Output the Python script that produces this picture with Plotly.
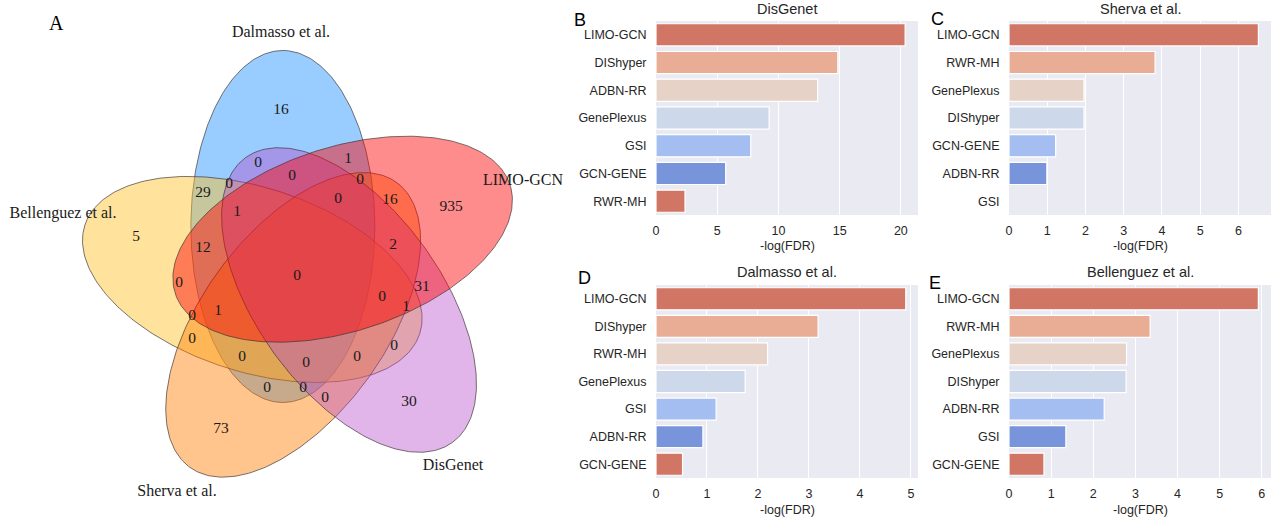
import numpy as np
import plotly.graph_objects as go

W, H = 1272, 517

# ---------------- Venn data (panel A) ----------------
venn_sets = ["Dalmasso et al.", "Bellenguez et al.", "Sherva et al.", "DisGenet", "LIMO-GCN"]
venn_counts = [16, 0, 0, 29, 1, 5, 12, 0, 1, 0, 0, 16, 935, 2,
               0, 0, 1, 0, 0, 0, 73, 0, 0, 31, 1, 0, 0, 0, 0, 0, 30]
venn_count_x = [281, 258, 229, 203, 237, 136, 203, 292, 348, 360, 338, 390, 451, 393,
                179, 192, 218, 192, 242, 267, 221, 297, 382, 422, 406, 394, 357, 306, 303, 325, 409]
venn_count_y = [110, 163, 184, 193, 212, 237, 248, 176, 159, 180, 199, 200, 207, 245,
                283, 316, 311, 339, 357, 388, 429, 276, 297, 287, 307, 346, 357, 363, 388, 398, 402]
venn_label_x = [281, 63, 177, 453, 523]
venn_label_y = [33, 214, 492, 466, 181]

# ellipse geometry (pixel space of panel A)
venn_center = (304, 274)
venn_dist = 52
venn_a, venn_b = 176, 92
venn_center_angle = [114, -174, -102, -30, 42]   # degrees
venn_axis_offset = -24
venn_fill = ["rgba(30,144,255,0.45)", "rgba(255,193,37,0.45)", "rgba(255,127,0,0.45)",
             "rgba(180,70,200,0.40)", "rgba(255,0,0,0.45)"]

# ---------------- Bar data (panels B-E) ----------------
b_title = "DisGenet"
b_methods = ["LIMO-GCN", "DIShyper", "ADBN-RR", "GenePlexus", "GSI", "GCN-GENE", "RWR-MH"]
b_values = [20.35, 14.85, 13.2, 9.24, 7.74, 5.69, 2.37]

c_title = "Sherva et al."
c_methods = ["LIMO-GCN", "RWR-MH", "GenePlexus", "DIShyper", "GCN-GENE", "ADBN-RR", "GSI"]
c_values = [6.52, 3.82, 1.96, 1.96, 1.22, 0.99, 0.0]

d_title = "Dalmasso et al."
d_methods = ["LIMO-GCN", "DIShyper", "RWR-MH", "GenePlexus", "GSI", "ADBN-RR", "GCN-GENE"]
d_values = [4.9, 3.18, 2.19, 1.75, 1.18, 0.92, 0.52]

e_title = "Bellenguez et al."
e_methods = ["LIMO-GCN", "RWR-MH", "GenePlexus", "DIShyper", "ADBN-RR", "GSI", "GCN-GENE"]
e_values = [5.92, 3.35, 2.79, 2.78, 2.26, 1.35, 0.83]

x_label = "-log(FDR)"
palette = ["#d17565", "#e9ad96", "#e6d2c7", "#cdd8ea", "#a4bef1", "#7894db"]

fig = go.Figure()

# ---------------- Venn ----------------
t = np.linspace(0, 2 * np.pi, 300)
for i, name in enumerate(venn_sets):
    ca = np.deg2rad(venn_center_angle[i])
    cx = venn_center[0] + venn_dist * np.cos(ca)
    cy = venn_center[1] - venn_dist * np.sin(ca)
    phi = np.deg2rad(venn_center_angle[i] + venn_axis_offset)
    ex = venn_a * np.cos(t)
    ey = venn_b * np.sin(t)
    px = cx + ex * np.cos(phi) - ey * np.sin(phi)
    py = cy - (ex * np.sin(phi) + ey * np.cos(phi))
    fig.add_trace(go.Scatter(x=px, y=py, mode="lines", fill="toself",
                             fillcolor=venn_fill[i],
                             line=dict(color="rgba(60,50,50,0.85)", width=0.8),
                             xaxis="x5", yaxis="y5", hoverinfo="skip", name=name))

fig.add_trace(go.Scatter(x=venn_count_x, y=venn_count_y, mode="text",
                         text=[str(v) for v in venn_counts],
                         textfont=dict(family="Liberation Serif, Times New Roman, serif", size=15.5, color="#1a1a1a"),
                         xaxis="x5", yaxis="y5", hoverinfo="skip", cliponaxis=False))
fig.add_trace(go.Scatter(x=venn_label_x, y=venn_label_y, mode="text",
                         text=venn_sets,
                         textfont=dict(family="Liberation Serif, Times New Roman, serif", size=16, color="#1a1a1a"),
                         xaxis="x5", yaxis="y5", hoverinfo="skip", cliponaxis=False))

# ---------------- Bars ----------------
panels = [
    (b_title, b_methods, b_values, "x", "y"),
    (c_title, c_methods, c_values, "x2", "y2"),
    (d_title, d_methods, d_values, "x3", "y3"),
    (e_title, e_methods, e_values, "x4", "y4"),
]
for title, methods, values, xa, ya in panels:
    cols = [palette[i % len(palette)] for i in range(len(methods))]
    lw = [1.2 if v > 0 else 0 for v in values]
    fig.add_trace(go.Bar(x=values, y=methods, orientation="h", width=0.8,
                         marker=dict(color=cols, line=dict(color="white", width=lw)),
                         xaxis=xa, yaxis=ya, hoverinfo="skip"))

tickfont = dict(family="Liberation Sans, Arial, sans-serif", size=12.5, color="#262626")

x_dom_l = [656 / W, 918 / W]
x_dom_r = [1009 / W, 1271 / W]
y_dom_t = [1 - 215 / H, 1 - 21 / H]
y_dom_b = [1 - 478 / H, 1 - 285 / H]

def xax(dom, xmax, dt, anchor):
    return dict(domain=dom, range=[0, xmax], dtick=dt, tick0=0, showgrid=True,
                gridcolor="white", gridwidth=1.1, zeroline=False, showline=False,
                ticks="outside", ticklen=4, tickcolor="rgba(0,0,0,0)", tickfont=tickfont,
                anchor=anchor, automargin=False, fixedrange=True)

def yax(dom, methods, anchor):
    return dict(domain=dom, range=[6.5, -0.5], type="category", categoryorder="array",
                categoryarray=methods, showgrid=False, zeroline=False, showline=False,
                ticks="outside", ticklen=6, tickcolor="rgba(0,0,0,0)", tickfont=tickfont,
                anchor=anchor, automargin=False, fixedrange=True)

layout = dict(
    width=W, height=H, margin=dict(l=0, r=0, t=0, b=0),
    paper_bgcolor="white", plot_bgcolor="#eaeaf2", showlegend=False,
    xaxis=xax(x_dom_l, 21.4, 5, "y"),
    yaxis=yax(y_dom_t, b_methods, "x"),
    xaxis2=xax(x_dom_r, 6.85, 1, "y2"),
    yaxis2=yax(y_dom_t, c_methods, "x2"),
    xaxis3=xax(x_dom_l, 5.14, 1, "y3"),
    yaxis3=yax(y_dom_b, d_methods, "x3"),
    xaxis4=xax(x_dom_r, 6.22, 1, "y4"),
    yaxis4=yax(y_dom_b, e_methods, "x4"),
    xaxis5=dict(domain=[0, 580 / W], range=[0, 580], visible=False, anchor="y5", fixedrange=True),
    yaxis5=dict(domain=[0, 1], range=[517, 0], visible=False, anchor="x5", fixedrange=True),
)
fig.update_layout(**layout)

fig.add_shape(type="rect", xref="x5 domain", yref="y5 domain", x0=0, x1=1, y0=0, y1=1,
              fillcolor="white", line=dict(width=0), layer="below")

ann = []
sans = "Liberation Sans, Arial, sans-serif"
for title, cx, cy in [(b_title, 787, 9), (c_title, 1140, 9), (d_title, 787, 272), (e_title, 1140, 272)]:
    ann.append(dict(text=title, x=cx / W, y=1 - cy / H, xref="paper", yref="paper",
                    showarrow=False, font=dict(family=sans, size=14.5, color="#262626"),
                    xanchor="center", yanchor="middle"))
for cx, cy in [(787, 246), (1140, 246), (787, 510), (1140, 510)]:
    ann.append(dict(text=x_label, x=cx / W, y=1 - cy / H, xref="paper", yref="paper",
                    showarrow=False, font=dict(family=sans, size=12.5, color="#262626"),
                    xanchor="center", yanchor="middle"))
for letter, cx, cy in [("B", 580, 20), ("C", 937, 19), ("D", 584, 278), ("E", 935, 283)]:
    ann.append(dict(text=letter, x=cx / W, y=1 - cy / H, xref="paper", yref="paper",
                    showarrow=False, font=dict(family=sans, size=18, color="black"),
                    xanchor="center", yanchor="middle"))
ann.append(dict(text="A", x=57 / W, y=1 - 23 / H, xref="paper", yref="paper",
                showarrow=False, font=dict(family="Liberation Serif, Times New Roman, serif", size=20, color="black"),
                xanchor="center", yanchor="middle"))
fig.update_layout(annotations=ann)

fig.write_html("out.html", config={"displayModeBar": False},
               post_script="document.body.style.margin='0';document.body.style.overflow='hidden';")
